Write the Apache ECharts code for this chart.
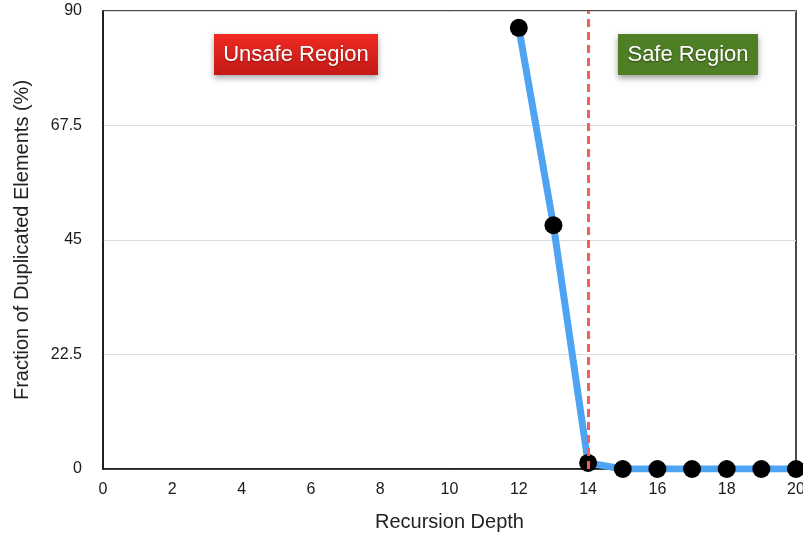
<!DOCTYPE html>
<html>
<head>
<meta charset="utf-8">
<script src="https://cdn.jsdelivr.net/npm/echarts@6/dist/echarts.min.js"></script>
<style>
  html, body { margin: 0; padding: 0; background: #fff; }
  #chart { width: 803px; height: 535px; }
</style>
</head>
<body>
<div id="chart"></div>
<script>
// Recursion depth vs. share of duplicated elements
const depths = [12, 13, 14, 15, 16, 17, 18, 19, 20];
const duplicatedPct = [86.7, 47.9, 1.2, 0, 0, 0, 0, 0, 0];
const yTicks = [0, 22.5, 45, 67.5, 90];
const safeThreshold = 14;

const FONT = '"Liberation Sans", Arial, Helvetica, sans-serif';
const chart = echarts.init(document.getElementById('chart'), null, { renderer: 'canvas' });

chart.setOption({
  animation: false,
  backgroundColor: '#fff',
  grid: {
    left: 103, right: 7, top: 11, bottom: 66,
    outerBoundsMode: 'none', containLabel: false,
    show: true, borderColor: '#111', borderWidth: 1.5, backgroundColor: 'transparent'
  },
  xAxis: {
    type: 'value', min: 0, max: 20, interval: 2,
    name: 'Recursion Depth', nameLocation: 'middle', nameGap: 43,
    nameTextStyle: { fontFamily: FONT, fontSize: 20, color: '#222' },
    axisLine: { show: true, lineStyle: { color: '#111', width: 1.5 } },
    axisTick: { show: false },
    splitLine: { show: false },
    axisLabel: { fontFamily: FONT, fontSize: 16, color: '#1a1a1a', margin: 13 }
  },
  yAxis: {
    type: 'value', min: 0, max: 90, interval: 22.5,
    name: 'Fraction of Duplicated Elements (%)', nameLocation: 'middle', nameGap: 71,
    nameTextStyle: { fontFamily: FONT, fontSize: 20, color: '#222' },
    axisLine: { show: true, lineStyle: { color: '#111', width: 1.5 } },
    axisTick: { show: false },
    splitLine: { show: true, lineStyle: { color: '#dcdcdc', width: 1 } },
    axisLabel: {
      fontFamily: FONT, fontSize: 16, color: '#1a1a1a', margin: 21,
      formatter: v => (yTicks.includes(v) ? String(v) : '')
    }
  },
  series: [{
    type: 'line',
    data: depths.map((d, i) => [d, duplicatedPct[i]]),
    lineStyle: { color: '#4ea3f2', width: 7 },
    symbol: 'circle', symbolSize: 18,
    itemStyle: { color: '#000' },
    z: 3,
    markLine: {
      silent: true, symbol: 'none', z: 10,
      label: { show: false },
      lineStyle: { color: '#fa5c5c', type: [8, 5], width: 3 },
      data: [{ xAxis: safeThreshold }]
    }
  }],
  graphic: [
    {
      type: 'group', left: 214, top: 34,
      children: [
        { type: 'rect', shape: { x: 0, y: 0, width: 164, height: 41 },
          style: { fill: new echarts.graphic.LinearGradient(0, 0, 0, 1, [
            { offset: 0, color: '#ee2a22' }, { offset: 1, color: '#c41a17' }]),
            shadowBlur: 6, shadowOffsetY: 3, shadowColor: 'rgba(0,0,0,0.35)' } },
        { type: 'text', style: { x: 82, y: 21, text: 'Unsafe Region', align: 'center', verticalAlign: 'middle',
          fontFamily: FONT, fontSize: 22, fill: '#fff',
          textShadowColor: 'rgba(0,0,0,0.35)', textShadowBlur: 2, textShadowOffsetY: 1 } }
      ]
    },
    {
      type: 'group', left: 618, top: 34,
      children: [
        { type: 'rect', shape: { x: 0, y: 0, width: 140, height: 41 },
          style: { fill: '#4f7f25',
            shadowBlur: 6, shadowOffsetY: 3, shadowColor: 'rgba(0,0,0,0.4)' } },
        { type: 'text', style: { x: 70, y: 21, text: 'Safe Region', align: 'center', verticalAlign: 'middle',
          fontFamily: FONT, fontSize: 22, fill: '#fff',
          textShadowColor: 'rgba(0,0,0,0.5)', textShadowBlur: 2, textShadowOffsetY: 1 } }
      ]
    }
  ]
});
</script>
</body>
</html>
